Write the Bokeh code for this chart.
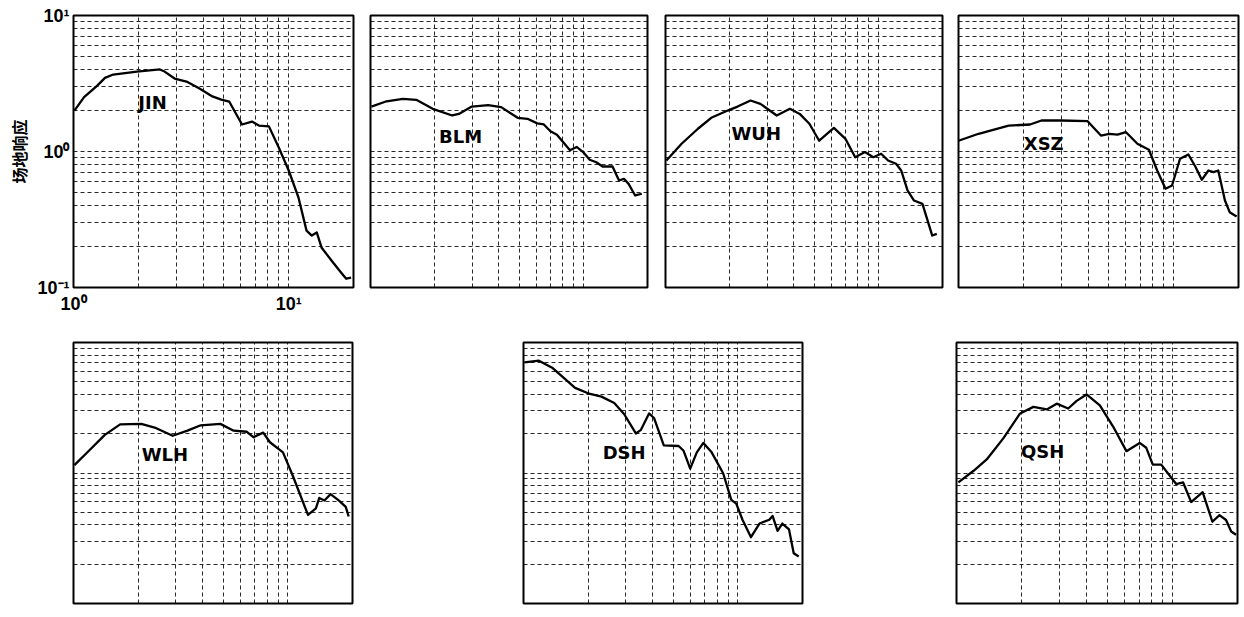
from bokeh.plotting import figure
from bokeh.layouts import row, column
from bokeh.models import Spacer, FixedTicker, Range1d
from bokeh.core.properties import value
from bokeh.embed import file_html
from bokeh.resources import INLINE

# ---------------- data ----------------
stations = ["JIN", "BLM", "WUH", "XSZ", "WLH", "DSH", "QSH"]

jin_f = [1.01, 1.12, 1.29, 1.40, 1.53, 1.97, 2.52, 2.65, 2.95, 3.35, 3.85, 4.42, 4.86, 5.29, 5.58,
         6.07, 6.75, 7.27, 8.09, 8.99, 10.0, 11.1, 12.1, 12.8, 13.5, 14.2, 15.8, 17.5, 18.5, 19.5]
jin_a = [2.0, 2.51, 3.05, 3.48, 3.68, 3.87, 4.01, 3.87, 3.44, 3.27, 2.91, 2.54, 2.41, 2.33, 2.0,
         1.58, 1.66, 1.55, 1.53, 1.07, 0.725, 0.459, 0.262, 0.241, 0.254, 0.197, 0.158, 0.129, 0.116, 0.118]

blm_f = [1.01, 1.19, 1.42, 1.64, 1.96, 2.42, 2.60, 2.99, 3.57, 4.11, 4.91, 5.46, 6.07, 6.52, 7.0,
         7.51, 8.65, 9.29, 9.97, 10.7, 11.5, 12.3, 13.7, 14.7, 15.5, 16.3, 17.5, 18.8]
blm_a = [2.14, 2.34, 2.44, 2.40, 2.06, 1.84, 1.89, 2.14, 2.19, 2.12, 1.77, 1.74, 1.61, 1.58, 1.41,
         1.33, 1.02, 1.08, 0.99, 0.87, 0.834, 0.776, 0.776, 0.612, 0.630, 0.578, 0.475, 0.489]

wuh_f = [1.01, 1.19, 1.42, 1.64, 1.96, 2.18, 2.51, 2.79, 3.33, 3.84, 4.27, 4.74, 5.27, 6.18, 7.0,
         7.78, 8.65, 9.46, 10.3, 11.1, 12.1, 12.8, 13.7, 14.7, 16.1, 17.9, 18.8]
wuh_a = [0.859, 1.14, 1.47, 1.77, 2.0, 2.14, 2.37, 2.24, 1.84, 2.06, 1.89, 1.60, 1.20, 1.49, 1.24,
         0.908, 0.99, 0.908, 0.962, 0.859, 0.812, 0.725, 0.517, 0.436, 0.412, 0.241, 0.248]

xsz_f = [1.0, 1.24, 1.71, 2.15, 2.43, 3.0, 3.98, 4.59, 5.02, 5.48, 5.99, 6.78, 7.67, 8.38, 9.16,
         9.82, 10.7, 11.7, 12.6, 13.5, 14.5, 15.3, 16.1, 17.3, 18.2, 19.6]
xsz_a = [1.20, 1.35, 1.55, 1.58, 1.69, 1.69, 1.67, 1.31, 1.35, 1.33, 1.39, 1.14, 1.03, 0.725, 0.532,
         0.562, 0.884, 0.951, 0.776, 0.619, 0.725, 0.705, 0.725, 0.436, 0.358, 0.333]

wlh_f = [1.01, 1.18, 1.40, 1.65, 2.07, 2.39, 2.90, 3.40, 3.92, 4.84, 5.58, 6.43, 6.90, 7.27, 7.67,
         8.24, 9.48, 10.5, 12.4, 13.5, 14.0, 14.8, 15.8, 17.3, 18.6, 19.2]
wlh_a = [1.15, 1.48, 1.96, 2.36, 2.38, 2.23, 1.93, 2.11, 2.32, 2.38, 2.11, 2.07, 1.88, 1.96, 2.04,
         1.72, 1.44, 0.966, 0.477, 0.535, 0.644, 0.615, 0.689, 0.615, 0.550, 0.464]

dsh_f = [1.01, 1.18, 1.36, 1.56, 1.74, 2.0, 2.31, 2.65, 2.95, 3.34, 3.52, 3.85, 4.06, 4.51, 5.29,
         5.58, 5.99, 6.43, 6.90, 7.54, 8.53, 9.31, 9.82, 10.5, 11.5, 12.6, 14.0, 14.5, 15.3, 16.1,
         17.3, 18.2, 19.2]
dsh_a = [7.04, 7.25, 6.41, 5.26, 4.49, 4.08, 3.85, 3.44, 2.82, 2.01, 2.13, 2.86, 2.64, 1.63, 1.61,
         1.48, 1.08, 1.44, 1.70, 1.44, 0.995, 0.622, 0.582, 0.438, 0.322, 0.410, 0.438, 0.469, 0.360,
         0.410, 0.370, 0.243, 0.229]

qsh_f = [1.02, 1.20, 1.38, 1.65, 1.97, 2.27, 2.62, 2.91, 3.29, 3.60, 4.0, 4.61, 5.31, 6.12, 7.05,
         7.56, 8.11, 8.87, 10.4, 11.2, 12.2, 13.8, 15.3, 16.5, 17.7, 18.7, 19.7]
qsh_a = [0.848, 1.04, 1.27, 1.85, 2.86, 3.21, 3.07, 3.40, 3.12, 3.57, 4.0, 3.30, 2.27, 1.47, 1.70,
         1.56, 1.16, 1.16, 0.823, 0.848, 0.599, 0.713, 0.423, 0.475, 0.436, 0.356, 0.336]

label_x = [2.0, 2.10, 2.04, 2.01, 2.08, 2.34, 1.99]
label_y = [2.29, 1.28, 1.35, 1.14, 1.39, 1.44, 1.47]

x_grid = [1, 2, 3, 4, 5, 6, 7, 8, 9, 10, 20]
y_grid = [0.1, 0.2, 0.3, 0.4, 0.5, 0.6, 0.7, 0.8, 0.9,
          1, 2, 3, 4, 5, 6, 7, 8, 9, 10]
x_tick_values = [1, 10]
x_tick_labels = ["10\u2070", "10\u00b9"]
y_tick_values = [0.1, 1, 10]
y_tick_labels = ["10\u207b\u00b9", "10\u2070", "10\u00b9"]
y_axis_title = "场地响应"

curves = [(jin_f, jin_a), (blm_f, blm_a), (wuh_f, wuh_a), (xsz_f, xsz_a),
          (wlh_f, wlh_a), (dsh_f, dsh_a), (qsh_f, qsh_a)]

# panel geometry: (left, frame_w, right, top, frame_h, bottom)
geom = [
    (73, 280, 2, 15, 272, 30),
    (15, 277, 2, 15, 272, 30),
    (16, 277, 2, 15, 272, 30),
    (14, 280, 2, 15, 272, 30),
    (73, 279, 2, 25, 273, 2),
    (10, 279, 2, 25, 273, 2),
    (10, 281, 2, 21, 265, 14),
]


def make_panel(i, with_axes=False):
    left, fw, right, top, fh, bottom = geom[i]
    p = figure(width=left + fw + right, height=top + fh + bottom,
               x_axis_type="log", y_axis_type="log",
               x_range=Range1d(1, 20), y_range=Range1d(0.1, 10),
               x_axis_location="below" if with_axes else None,
               y_axis_location="left" if with_axes else None,
               toolbar_location=None, output_backend="svg",
               min_border_left=left, min_border_right=right,
               min_border_top=top, min_border_bottom=bottom)
    p.background_fill_color = "white"
    p.border_fill_color = "white"
    p.outline_line_color = "black"
    p.outline_line_width = 2
    p.outline_line_alpha = 1.0

    for g, ticks in ((p.xgrid, x_grid), (p.ygrid, y_grid)):
        g.ticker = FixedTicker(ticks=ticks)
        g.grid_line_color = "#111111"
        g.grid_line_alpha = 0.9
        g.grid_line_width = 1
        g.grid_line_dash = "4 3"

    if with_axes:
        p.xaxis.ticker = FixedTicker(ticks=x_tick_values)
        p.yaxis.ticker = FixedTicker(ticks=y_tick_values)
        p.xaxis.major_label_overrides = dict(zip(x_tick_values, x_tick_labels))
        p.yaxis.major_label_overrides = dict(zip(y_tick_values, y_tick_labels))
        for ax in (p.xaxis, p.yaxis):
            ax.axis_line_color = None
            ax.major_tick_line_color = None
            ax.minor_tick_line_color = None
            ax.major_tick_in = 0
            ax.major_tick_out = 0
            ax.minor_tick_in = 0
            ax.minor_tick_out = 0
            ax.major_label_text_font = "Liberation Sans"
            ax.major_label_text_font_style = "bold"
            ax.major_label_text_font_size = "18px"
            ax.major_label_text_color = "black"
        p.xaxis.major_label_standoff = 6
        p.yaxis.major_label_standoff = 4
        p.yaxis.axis_label = y_axis_title
        p.yaxis.axis_label_text_font = "Noto Sans CJK SC"
        p.yaxis.axis_label_text_font_style = "bold"
        p.yaxis.axis_label_text_font_size = "16px"
        p.yaxis.axis_label_text_color = "black"
        p.yaxis.axis_label_standoff = 3

    f, a = curves[i]
    p.line(f, a, line_color="black", line_width=2.3, line_join="round")
    p.text(x=[label_x[i]], y=[label_y[i]], text=[stations[i]],
           text_font=value("DejaVu Sans"), text_font_style="bold",
           text_font_size="18px", text_color="black",
           text_align="left", text_baseline="middle")
    return p


panels = [make_panel(i, with_axes=(i == 0)) for i in range(7)]

top_row = row(panels[0], panels[1], panels[2], panels[3])
bottom_row = row(panels[4], Spacer(width=159, height=300), panels[5],
                 Spacer(width=142, height=300), panels[6])
layout = column(top_row, bottom_row)

open("out.html", "w").write(file_html(layout, INLINE, title="site response"))
